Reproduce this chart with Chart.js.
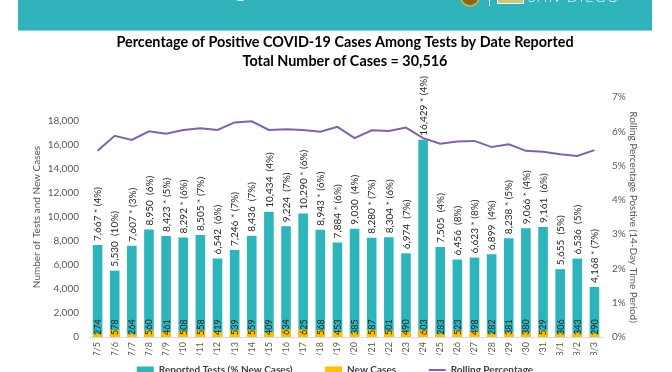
<!DOCTYPE html>
<html><head><meta charset="utf-8">
<script src="https://cdn.jsdelivr.net/npm/chart.js@4/dist/chart.umd.min.js"></script>
<style>html,body{margin:0;padding:0;overflow:hidden;background:#fff;width:672px;height:372px}canvas{display:block}</style>
</head><body>
<canvas id="c" width="672" height="385"></canvas>
<script>
const dates = ['7/5','7/6','7/7','7/8','7/9','7/10','7/11','7/12','7/13','7/14','7/15','7/16','7/17','7/18','7/19','7/20','7/21','7/22','7/23','7/24','7/25','7/26','7/27','7/28','7/29','7/30','7/31','8/1','8/2','8/3'];
const tests = [7667,5530,7607,8950,8423,8292,8505,6542,7246,8436,10434,9224,10290,8943,7884,9030,8280,8304,6974,16429,7505,6456,6623,6899,8238,9066,9161,5655,6536,4168];
const newCases = [274,578,264,560,461,508,558,419,539,559,409,634,625,568,453,385,587,501,490,603,283,523,498,282,381,380,529,306,343,290];
const pctNew = [4,10,3,6,5,6,7,6,7,7,4,7,6,6,6,4,7,6,7,4,4,8,8,4,5,4,6,5,5,7];
const starred = [1,0,1,0,1,1,1,0,1,0,0,0,1,1,1,0,1,1,0,1,0,0,1,0,1,1,0,0,0,1];
const rolling = [5.43,5.87,5.75,6.00,5.93,6.04,6.09,6.04,6.26,6.29,6.04,6.06,6.04,5.99,6.13,5.80,6.03,6.01,6.11,5.80,5.64,5.70,5.72,5.54,5.62,5.43,5.40,5.33,5.28,5.45];
const leftTicks = [0,2000,4000,6000,8000,10000,12000,14000,16000,18000];
const rightTicks = [0,1,2,3,4,5,6,7];

const FONT = 'Lato';
Chart.defaults.font.family = FONT;

const banner = {
  id: 'banner',
  beforeDraw(chart) {
    const ctx = chart.ctx;
    ctx.save();
    ctx.fillStyle = '#fff';
    ctx.fillRect(0, 0, chart.width, chart.height);
    ctx.fillStyle = '#30B3BA';
    ctx.fillRect(18, 0, 634, 30);
    ctx.fillStyle = '#8FD3D7';
    ctx.fillRect(18, 30, 634, 1);
    ctx.fillStyle = '#fff';
    ctx.font = 'bold 22px ' + FONT;
    ctx.textBaseline = 'alphabetic';
    ctx.fillText('g', 235, -3);
    ctx.beginPath();
    ctx.arc(470, -3, 9, 0, Math.PI * 2);
    ctx.fillStyle = '#7A6A22';
    ctx.fill();
    ctx.lineWidth = 1.5;
    ctx.strokeStyle = '#E0B040';
    ctx.stroke();
    ctx.fillStyle = '#fff';
    ctx.fillRect(489, 0, 1, 6);
    ctx.fillStyle = '#C9C97A';
    ctx.fillRect(497, -4, 26, 7);
    ctx.strokeStyle = '#fff';
    ctx.lineWidth = 1;
    ctx.strokeRect(497.5, -4, 26, 7.5);
    ctx.fillStyle = '#fff';
    ctx.font = '300 14px ' + FONT;
    if ('letterSpacing' in ctx) ctx.letterSpacing = '2px';
    ctx.fillText('SAN DIEGO', 528, 2);
    ctx.restore();
  }
};

const dataLabels = {
  id: 'dataLabels',
  afterDatasetsDraw(chart) {
    const ctx = chart.ctx;
    const mTests = chart.getDatasetMeta(0);
    const mNew = chart.getDatasetMeta(1);
    const y0 = chart.scales.y.getPixelForValue(0);
    ctx.save();
    ctx.textBaseline = 'middle';
    ctx.textAlign = 'left';
    mTests.data.forEach((el, i) => {
      const txt = tests[i].toLocaleString('en-US') + (starred[i] ? ' * ' : '  ') + '(' + pctNew[i] + '%)';
      ctx.save();
      ctx.translate(el.x + 0.5, el.y - 4);
      ctx.rotate(-Math.PI / 2);
      ctx.font = '10px ' + FONT;
      ctx.fillStyle = '#262626';
      ctx.fillText(txt, 0, 0);
      ctx.restore();
    });
    mNew.data.forEach((el, i) => {
      ctx.save();
      ctx.translate(el.x + 0.5, y0 - 2);
      ctx.rotate(-Math.PI / 2);
      ctx.font = '9px ' + FONT;
      ctx.fillStyle = '#262626';
      ctx.fillText(String(newCases[i]), 0, 0);
      ctx.restore();
    });
    ctx.restore();
  }
};

new Chart(document.getElementById('c'), {
  type: 'bar',
  data: {
    labels: dates,
    datasets: [
      { label: 'Reported Tests (% New Cases)', data: tests, backgroundColor: '#2EB5BC', borderWidth: 0,
        order: 2, grouped: false, barPercentage: 0.56, categoryPercentage: 1, yAxisID: 'y', pointStyle: 'rect' },
      { label: 'New Cases', data: newCases, backgroundColor: '#FFC000', borderWidth: 0,
        order: 1, grouped: false, barPercentage: 0.56, categoryPercentage: 1, yAxisID: 'y', pointStyle: 'rect' },
      { type: 'line', label: 'Rolling Percentage', data: rolling, borderColor: '#7F62AA', backgroundColor: '#7F62AA',
        borderWidth: 2, pointRadius: 0, tension: 0, order: 0, yAxisID: 'y1', pointStyle: 'line' }
    ]
  },
  options: {
    responsive: false,
    animation: false,
    devicePixelRatio: 1,
    layout: { padding: { left: 18, right: 0, top: 0, bottom: 0 } },
    plugins: {
      tooltip: { enabled: false },
      title: {
        display: true,
        text: ['Percentage of Positive COVID-19 Cases Among Tests by Date Reported', 'Total Number of Cases = 30,516'],
        font: { size: 14.4, weight: 'bold', lineHeight: 1.32 },
        color: '#000',
        padding: { top: 33, bottom: 26 }
      },
      legend: {
        position: 'bottom',
        labels: {
          usePointStyle: true,
          pointStyleWidth: 17,
          boxHeight: 7,
          padding: 10,
          color: '#404040',
          font: { size: 10, weight: 'bold' },
          sort: (a, b) => a.datasetIndex - b.datasetIndex,
          generateLabels(chart) {
            const items = Chart.defaults.plugins.legend.labels.generateLabels(chart);
            items.forEach(it => {
              if (it.datasetIndex !== 2) it.text = it.text + '\u2003\u2003\u2003';
              else it.text = it.text + '\u2003\u2003\u2002';
            });
            return items;
          }
        }
      }
    },
    scales: {
      x: {
        offset: true,
        grid: { display: false, drawTicks: false },
        border: { display: true, color: '#D9D9D9' },
        ticks: { autoSkip: false, minRotation: 90, maxRotation: 90, font: { size: 9 }, color: '#595959', padding: 5 },
        afterFit(s) { s.height = 18; }
      },
      y: {
        position: 'left',
        min: 0, max: 20000,
        afterBuildTicks(s) { s.ticks = leftTicks.concat([20000]).map(v => ({ value: v })); },
        grid: { display: false, drawTicks: false },
        border: { display: false },
        ticks: { color: '#595959', font: { size: 10 }, padding: 10,
          callback: v => v === 20000 ? '' : v.toLocaleString('en-US') },
        title: { display: true, text: 'Number of Tests and New Cases', color: '#595959', font: { size: 10 }, padding: { top: 13, bottom: 0 } },
        afterFit(s) { s.width = 71; }
      },
      y1: {
        position: 'right',
        min: 0, max: 7,
        afterBuildTicks(s) { s.ticks = rightTicks.map(v => ({ value: v })); },
        grid: { display: false, drawTicks: false },
        border: { display: false },
        ticks: { color: '#595959', font: { size: 10 }, padding: 9, callback: v => v + '%' },
        title: { display: true, text: 'Rolling Percentage Postive (14-Day Time Period)', color: '#595959', font: { size: 10 }, padding: { top: 33, bottom: 0 } },
        afterFit(s) { s.width = 69; }
      }
    }
  },
  plugins: [banner, dataLabels]
});
</script>
</body></html>
